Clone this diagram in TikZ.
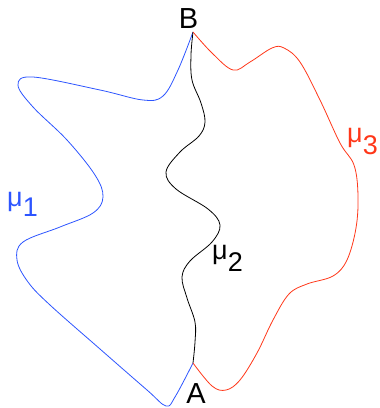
\documentclass[tikz,border=0pt]{standalone}
\usepackage{fontspec}
\setmainfont{Liberation Sans}
\definecolor{cblue}{RGB}{45,85,255}
\definecolor{cred}{RGB}{255,55,25}
\tikzset{
  lbl/.style={inner sep=0pt, font=\fontsize{29}{32}\selectfont},
  mulbl/.style={inner sep=0pt, anchor=base west, font=\fontsize{27}{30}\selectfont},
  curve/.style={line width=0.8pt, line join=round}
}
\begin{document}
\begin{tikzpicture}[x=1pt,y=-1pt]
\useasboundingbox (0,0) rectangle (380,408);
\coordinate (B) at (193,32);
\coordinate (A) at (193,363);
\node[lbl, anchor=base] (lB) at (188.5,28) {B};
\node[lbl, anchor=base] (lA) at (196,403) {A};
% mu1 (blue)
\draw[curve, cblue] plot[smooth, tension=0.6] coordinates {
 (B) (178,70) (163,96) (143,100) (100,90) (33,77) (18,85) (33,107) (67,140)
 (95,175) (103,197) (93,213) (60,227) (23,242) (17,260) (28,282) (50,305)
 (100,349) (147,390) (166,406) (175,397) (A)};
% mu2 (black)
\draw[curve, black] plot[smooth, tension=0.6] coordinates {
 (B) (191,55) (192,80) (201,103) (205,122) (199,136) (180,152) (166,172)
 (176,189) (208,209) (220,225) (212,242) (190,261) (182,277) (187,298)
 (195,322) (195,342) (A)};
% mu3 (red)
\draw[curve, cred] plot[smooth, tension=0.6] coordinates {
 (B) (212,53) (233,70) (250,62) (272,48) (284,48) (300,62) (320,100)
 (340,143) (354,165) (358,195) (356,228) (347,260) (333,276) (307,284)
 (289,294) (273,320) (257,353) (240,380) (226,390) (212,386) (A)};
\node[mulbl, cblue] (m1) at (7,206) {μ\raisebox{-10pt}{1}};
\node[mulbl, black] (m2) at (212,259) {μ\raisebox{-12pt}{2}};
\node[mulbl, cred] (m3) at (347,142) {μ\raisebox{-12pt}{3}};
\end{tikzpicture}
\end{document}
